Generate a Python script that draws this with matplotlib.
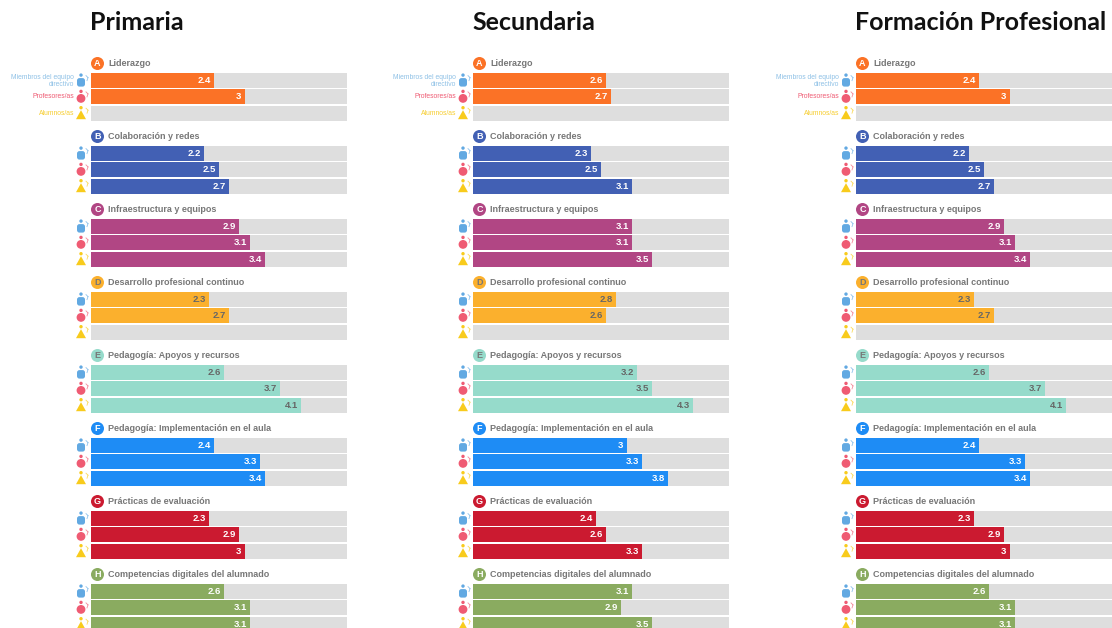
import numpy as np
import matplotlib
matplotlib.use('Agg')
import matplotlib.pyplot as plt
from matplotlib.patches import Circle, FancyBboxPatch, Polygon

W, H = 1112, 628

titles = ['Primaria', 'Secundaria', 'Formación Profesional']
areas = ['Liderazgo', 'Colaboración y redes', 'Infraestructura y equipos',
         'Desarrollo profesional continuo', 'Pedagogía: Apoyos y recursos',
         'Pedagogía: Implementación en el aula', 'Prácticas de evaluación',
         'Competencias digitales del alumnado']
letters = ['A', 'B', 'C', 'D', 'E', 'F', 'G', 'H']
colors = ['#fb7226', '#4260b4', '#b14684', '#fbb02d', '#96dbcb', '#1e8cf5', '#cb1a30', '#8aab60']
roles = ['Miembros del equipo\ndirectivo', 'Profesores/as', 'Alumnos/as']
role_colors = ['#8fc1e6', '#ef5b73', '#f6cd2f']
icon_colors = ['#62a9e2', '#ef5b73', '#f8cb1c']

directivos_pri = [2.4, 2.2, 2.9, 2.3, 2.6, 2.4, 2.3, 2.6]
profes_pri = [3, 2.5, 3.1, 2.7, 3.7, 3.3, 2.9, 3.1]
alumnos_pri = [None, 2.7, 3.4, None, 4.1, 3.4, 3, 3.1]
directivos_sec = [2.6, 2.3, 3.1, 2.8, 3.2, 3, 2.4, 3.1]
profes_sec = [2.7, 2.5, 3.1, 2.6, 3.5, 3.3, 2.6, 2.9]
alumnos_sec = [None, 3.1, 3.5, None, 4.3, 3.8, 3.3, 3.5]
directivos_fp = [2.4, 2.2, 2.9, 2.3, 2.6, 2.4, 2.3, 2.6]
profes_fp = [3, 2.5, 3.1, 2.7, 3.7, 3.3, 2.9, 3.1]
alumnos_fp = [None, 2.7, 3.4, None, 4.1, 3.4, 3, 3.1]

panels = [(directivos_pri, profes_pri, alumnos_pri),
          (directivos_sec, profes_sec, alumnos_sec),
          (directivos_fp, profes_fp, alumnos_fp)]
panel_x = [91, 473, 856]
panel_w = 256
group_step = 73
row_step = 16.3
first_row = 80.6
bar_h = 15


def fmt(v):
    return f'{v:g}'


def icon(ov, x, y, kind, c):
    # little person glyph next to each bar
    if kind == 0:
        ov.add_patch(FancyBboxPatch((x - 4, y - 2.5), 8, 8.5, boxstyle='round,pad=0,rounding_size=2.5',
                                    fc=c, ec='none'))
    elif kind == 1:
        ov.add_patch(Circle((x, y + 1.5), 4.4, fc=c, ec='none'))
    else:
        ov.add_patch(Polygon([(x - 5, y + 6), (x + 5, y + 6), (x, y - 3)], fc=c, ec='none'))
    ov.add_patch(Circle((x, y - 5.5), 1.7, fc=c, ec='none'))
    ov.plot([x + 5, x + 7], [y - 5, y - 3], color=c, lw=0.6, alpha=0.7)
    ov.plot([x + 7, x + 6], [y - 3, y + 0], color=c, lw=0.6, alpha=0.7)


fig = plt.figure(figsize=(W / 100, H / 100), dpi=100)
ov = fig.add_axes([0, 0, 1, 1], zorder=3)
ov.set_xlim(0, W)
ov.set_ylim(H, 0)
ov.axis('off')
ov.patch.set_alpha(0)

for p, series in enumerate(panels):
    x0 = panel_x[p]
    ov.text(x0 - 1, 23, titles[p], fontsize=18, fontweight='bold', family='Lato',
            color='#111111', va='center', ha='left')
    ax = fig.add_axes([x0 / W, 0, panel_w / W, 1], zorder=1)
    ax.set_xlim(0, 5)
    ax.set_ylim(H, 0)
    ax.axis('off')
    for g in range(len(areas)):
        yh = 63 + g * group_step
        ov.add_patch(Circle((x0 + 6.5, yh + 0.5), 6.5, fc=colors[g], ec='none'))
        ov.text(x0 + 6.5, yh + 0.5, letters[g], fontsize=6.5, fontweight='bold',
                color='#777777' if letters[g] in 'DE' else 'white',
                ha='center', va='center', family='Liberation Sans')
        ov.text(x0 + 17, yh + 0.5, areas[g], fontsize=6.5, fontweight='bold', color='#777777',
                ha='left', va='center', family='Liberation Sans')
        for r in range(3):
            y = first_row + g * group_step + r * row_step
            ax.barh(y, 5, height=bar_h, color='#dedede', linewidth=0)
            v = series[r][g]
            if v is not None:
                ax.barh(y, v, height=bar_h, color=colors[g], linewidth=0)
                dark = letters[g] == 'E' or letters[g] == 'D'
                ax.text(v - 0.06, y, fmt(v), fontsize=6.8, fontweight='bold', ha='right', va='center',
                        color='#666666' if dark else 'white', family='Liberation Sans')
            icon(ov, x0 - 10, y, r, icon_colors[r])
            if g == 0:
                ov.text(x0 - 17, y, roles[r], fontsize=4.9, color=role_colors[r], ha='right', va='center',
                        family='Liberation Sans', linespacing=1.0)

fig.savefig('out.png', dpi=100)
